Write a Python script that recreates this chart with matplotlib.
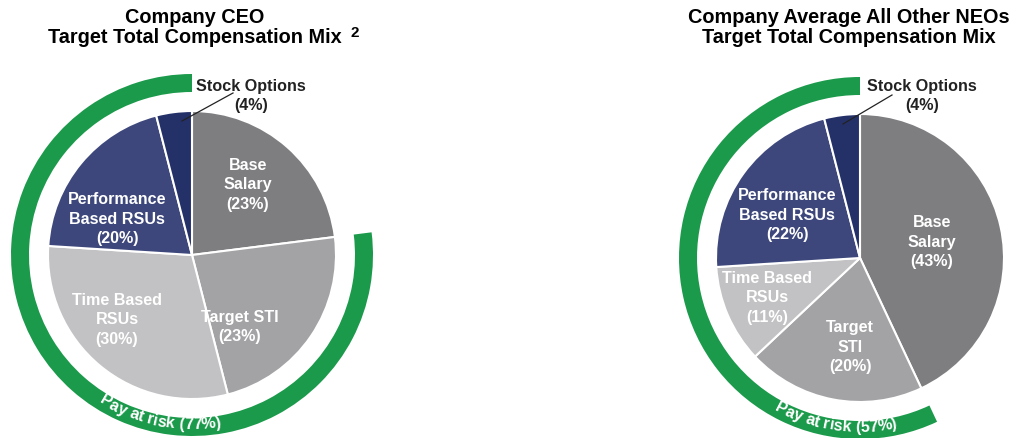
import numpy as np
import matplotlib
matplotlib.use('Agg')
import matplotlib.pyplot as plt
from matplotlib.patches import Wedge
from matplotlib.font_manager import FontProperties
from matplotlib.textpath import text_to_path

plt.rcParams['font.family'] = 'Liberation Sans'

W, H = 1021, 438

# data
ceo_names = ['Base\nSalary', 'Target STI', 'Time Based\nRSUs', 'Performance\nBased RSUs', 'Stock Options']
ceo_pct = [23, 23, 30, 20, 4]
neo_names = ['Base\nSalary', 'Target\nSTI', 'Time Based\nRSUs', 'Performance\nBased RSUs', 'Stock Options']
neo_pct = [43, 20, 11, 22, 4]
titles = ['Company CEO\nTarget Total Compensation Mix',
          'Company Average All Other NEOs\nTarget Total Compensation Mix']

colors = ['#7e7e81', '#a3a3a6', '#c2c2c4', '#3d477b', '#243169']
green = '#1b9a4b'


def Y(y):
    # pixel row -> data y
    return H - y


def pct_label(name, p):
    return '%s\n(%d%%)' % (name, p)


def arc_text(ax, s, cx, cy, r, mid, size):
    '''Writes a string along a circle, centred on angle mid (degrees)'''
    prop = FontProperties(family='Liberation Sans', weight='bold', size=size)

    def w(t):
        return text_to_path.get_text_width_height_descent(t, prop, ismath=False)[0] * 100 / 72

    base = w('xx')
    adv = [w('x' + ch + 'x') - base for ch in s]
    total = sum(adv)
    pos = 0
    for ch, a_ in zip(s, adv):
        c = pos + a_ / 2 - total / 2
        pos += a_
        a = np.radians(mid) + c / r
        ax.text(cx + r * np.cos(a), cy + r * np.sin(a), ch, rotation=np.degrees(a) + 90,
                rotation_mode='anchor', ha='center', va='baseline', color='white',
                fontsize=size, fontweight='bold')


fig = plt.figure(figsize=(W / 100, H / 100), dpi=100)
ax = fig.add_axes([0, 0, 1, 1])

charts = [
    dict(names=ceo_names, pct=ceo_pct, title=titles[0], center=(192, 255), title_x=195,
         label_xy=[(248, 185), (240, 327), (117, 320), (117, 219)],
         opt_x=251, leader=((233, 93), (182, 121)), risk_mid=-101.3),
    dict(names=neo_names, pct=neo_pct, title=titles[1], center=(860, 258), title_x=849,
         label_xy=[(932, 242), (850, 347), (767, 298), (787, 215)],
         opt_x=922, leader=((892, 95), (843, 124)), risk_mid=-98.5),
]

for ch in charts:
    cx, cy = ch['center'][0], Y(ch['center'][1])
    ax.pie(ch['pct'], colors=colors, startangle=90, counterclock=False,
           center=(cx, cy), radius=144, frame=True,
           wedgeprops=dict(edgecolor='white', linewidth=1.5))

    # pay at risk ring
    risk = sum(ch['pct'][1:])
    ax.add_patch(Wedge((cx, cy), 181, 90, 90 + 360 * risk / 100, width=18,
                       facecolor=green, edgecolor='none'))
    arc_text(ax, 'Pay at risk (%d%%)' % risk, cx, cy, 174.3, ch['risk_mid'], 11.6)

    # slice labels
    for name, p, (lx, ly) in zip(ch['names'][:4], ch['pct'][:4], ch['label_xy']):
        ax.text(lx, Y(ly), pct_label(name, p), ha='center', va='center', color='white',
                fontsize=11.6, fontweight='bold', linespacing=1.4)

    # stock options callout
    ax.text(ch['opt_x'], Y(96), pct_label(ch['names'][4], ch['pct'][4]), ha='center', va='center',
            color='#222222', fontsize=11.6, fontweight='bold', linespacing=1.35)
    (x0, y0), (x1, y1) = ch['leader']
    ax.plot([x0, x1], [Y(y0), Y(y1)], color='#222222', lw=0.9)

    ax.text(ch['title_x'], Y(27.5), ch['title'], ha='center', va='center', color='black',
            fontsize=14.3, fontweight='bold', linespacing=1.08)

ax.text(350, Y(33), '2', ha='left', va='center', fontsize=11, fontweight='bold')

ax.set_xlim(0, W)
ax.set_ylim(0, H)
ax.set_aspect('equal')
ax.axis('off')

fig.savefig('out.png', dpi=100)
